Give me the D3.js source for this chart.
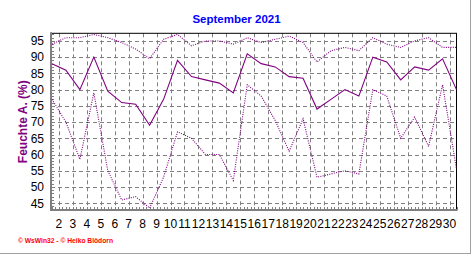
<!DOCTYPE html>
<html>
<head>
<meta charset="utf-8">
<script src="https://d3js.org/d3.v7.min.js"></script>
<style>
  body { margin: 0; background: #fff; }
  svg { display: block; font-family: "Liberation Sans", Arial, sans-serif; }
</style>
</head>
<body>
<div id="container"></div>
<script>
// daily humidity values, September 2021
let days = [1,2,3,4,5,6,7,8,9,10,11,12,13,14,15,16,17,18,19,20,21,22,23,24,25,26,27,28,29,30];
let maxValues = [94,96,96,97,96,94.5,92.5,89.5,95.5,97,93.5,95,95,94,96,94.5,95.5,96.5,94.5,88.5,92,93,92,96,94,93,95,96,93,93];
let meanValues = [88,86,80,90,79.5,76,75.5,69,77,89,84,83,82,79,91,88,87,84,83.5,74,77,80,78,90,88.5,83,87,86,89.5,80];
let minValues = [77,70,58.5,79,55,46,47,43.5,53,67,65,60,60,52,81.5,78,70.5,61,71,53,54,55,54,80,78,65,71.5,62.5,81.5,55.5];
let xTicks = [2,3,4,5,6,7,8,9,10,11,12,13,14,15,16,17,18,19,20,21,22,23,24,25,26,27,28,29,30];
let yTicks = [45,50,55,60,65,70,75,80,85,90,95];

let w = 472;
let h = 255;
let pLeft = 51, pRight = 456.5, pTop = 33.3, pBottom = 210;
let purple = "#800080";

let viz = d3.select("#container")
    .append("svg")
    .attr("width", w)
    .attr("height", h);

// x: day number, points sit in the middle of each day
let xScale = d3.scaleLinear().domain([1.43, 30.5]).range([pLeft, pRight]);
let yScale = d3.scaleLinear().domain([42.9, 97.35]).range([pBottom, pTop]);

// grid
let grid = viz.append("g").attr("stroke", "#808080").attr("stroke-dasharray", "4,3");
grid.selectAll(".v").data(xTicks).enter().append("line")
    .attr("x1", d => Math.round(xScale(d)) + 0.5).attr("x2", d => Math.round(xScale(d)) + 0.5)
    .attr("y1", pTop).attr("y2", pBottom);
grid.selectAll(".h").data(yTicks).enter().append("line")
    .attr("x1", pLeft).attr("x2", pRight)
    .attr("y1", d => Math.round(yScale(d)) + 0.5).attr("y2", d => Math.round(yScale(d)) + 0.5);

// minor ticks
let minorX = d3.range(1.5, 30.51, 0.25);
viz.append("g").selectAll("line").data(minorX).enter().append("line")
    .attr("x1", d => Math.round(xScale(d)) + 0.5).attr("x2", d => Math.round(xScale(d)) + 0.5)
    .attr("y1", pBottom - 3).attr("y2", pBottom)
    .attr("stroke", "#808080");
let minorY = d3.range(43, 98, 1);
viz.append("g").selectAll("line").data(minorY).enter().append("line")
    .attr("x1", pLeft).attr("x2", pLeft + 3)
    .attr("y1", d => Math.round(yScale(d)) + 0.5).attr("y2", d => Math.round(yScale(d)) + 0.5)
    .attr("stroke", "#808080");

// frame: black top/right, gray thick left/bottom
viz.append("line").attr("x1", pLeft).attr("x2", pRight + 0.5).attr("y1", pTop).attr("y2", pTop).attr("stroke", "#000");
viz.append("line").attr("x1", pRight).attr("x2", pRight).attr("y1", pTop).attr("y2", pBottom).attr("stroke", "#000");
viz.append("line").attr("x1", pLeft).attr("x2", pLeft).attr("y1", pTop - 1).attr("y2", pBottom + 1).attr("stroke", "#808080").attr("stroke-width", 2);
viz.append("line").attr("x1", pLeft - 1).attr("x2", pRight + 1).attr("y1", pBottom).attr("y2", pBottom).attr("stroke", "#808080").attr("stroke-width", 2);

// lines
let line = d3.line()
    .x((d, i) => xScale(days[i] + 0.5))
    .y(d => yScale(d));

let plot = viz.append("g");
plot.append("path").datum(maxValues).attr("d", line)
    .attr("fill", "none").attr("stroke", purple).attr("stroke-width", 1.1).attr("stroke-dasharray", "1,1.3");
plot.append("path").datum(minValues).attr("d", line)
    .attr("fill", "none").attr("stroke", purple).attr("stroke-width", 1.1).attr("stroke-dasharray", "1,1.3");
plot.append("path").datum(meanValues).attr("d", line)
    .attr("fill", "none").attr("stroke", purple).attr("stroke-width", 1.1);

// tick labels
viz.append("g").selectAll("text").data(xTicks).enter().append("text")
    .attr("x", d => xScale(d)).attr("y", 228)
    .attr("text-anchor", "middle").attr("font-size", 12).attr("fill", "#000")
    .text(d => d);
viz.append("g").selectAll("text").data(yTicks).enter().append("text")
    .attr("x", 44).attr("y", d => yScale(d)).attr("dy", "0.36em")
    .attr("text-anchor", "end").attr("font-size", 12).attr("fill", "#000")
    .text(d => d);

// titles
viz.append("text").attr("x", 236.5).attr("y", 22.5)
    .attr("text-anchor", "middle").attr("font-size", 11.5).attr("font-weight", "bold")
    .attr("fill", "#0000ff").text("September 2021");
viz.append("text")
    .attr("transform", "translate(22.7,121.7) rotate(-90)")
    .attr("text-anchor", "middle").attr("dy", "0.36em")
    .attr("font-size", 12).attr("font-weight", "bold").attr("fill", purple)
    .text("Feuchte A. (%)");
viz.append("text").attr("x", 18).attr("y", 242.5)
    .attr("font-size", 8).attr("font-weight", "bold").attr("fill", "#ff0000")
    .attr("textLength", 95).attr("lengthAdjust", "spacingAndGlyphs")
    .text("© WsWin32  -  © Heiko Blödorn");

// outer gray edge
viz.append("line").attr("x1", 470.5).attr("x2", 470.5).attr("y1", 0).attr("y2", 254).attr("stroke", "#a0a0a0");
viz.append("line").attr("x1", 0).attr("x2", 471).attr("y1", 253.5).attr("y2", 253.5).attr("stroke", "#a0a0a0");
</script>
</body>
</html>
